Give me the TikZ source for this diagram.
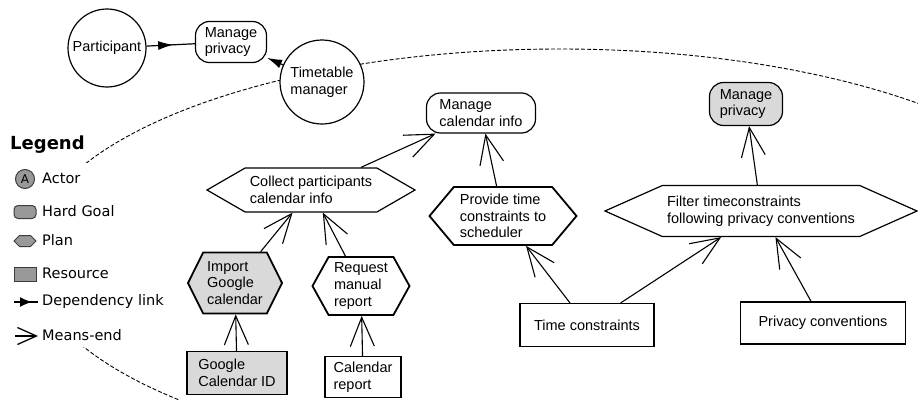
\documentclass[tikz,border=0pt]{standalone}
\usepackage{fontspec}
\setmainfont{Liberation Sans}
\newfontfamily\legendfont{DejaVu Sans}
\usetikzlibrary{arrows.meta,shapes.symbols,decorations.markings}
\definecolor{goalgrey}{HTML}{D9D9D9}
\definecolor{iconfill}{HTML}{999999}
\definecolor{icondraw}{HTML}{3C3C3C}
\tikzset{
	every node/.style={font=\fontsize{14.5}{16.7}\selectfont, align=left, inner sep=2pt},
	actor/.style={draw, circle, line width=1.2pt, fill=white, minimum size=#1},
	goal/.style={draw, rectangle, rounded corners=14pt, line width=1.2pt, fill=white},
	plan/.style={draw, signal, signal to=west and east, signal pointer angle=#1, line width=1.2pt, fill=white},
	resource/.style={draw, rectangle, line width=1.1pt, fill=white},
	meansend/.style={line width=1.1pt, -{Straight Barb[length=29pt,width=24pt]}},
	dependency/.style={line width=1.2pt, postaction={decorate},
		decoration={markings, mark=at position #1 with {\arrow{Latex[length=15pt,width=9pt]}}}},
	legend label/.style={anchor=west, inner sep=0pt, font=\legendfont\fontsize{14.5}{16}\selectfont}
}
\begin{document}
\begin{tikzpicture}[x=1pt, y=-1pt]
	\useasboundingbox (0,0) rectangle (918,399);
	% boundary of the timetable manager
	\draw[dash pattern=on 4pt off 2pt, line width=0.9pt] (560,256) ellipse [x radius=530pt, y radius=207pt];
	% legend panel hides the boundary
	\fill[white] (0,163) rectangle (178,347);
	%
	% actors and their dependency
	\node[actor=78pt] (participant) at (107,48) {Participant};
	\node[goal, minimum width=71pt, minimum height=41pt] (privacy) at (231,42) {Manage\\privacy};
	\node[actor=84pt] (timetable) at (322,82) {Timetable\\manager};
	\draw[dependency=0.55] (participant) -- (privacy);
	\draw[line width=1.2pt, -{Latex[length=15pt,width=9pt]}] (timetable) -- (privacy);
	%
	% goals inside the timetable manager
	\node[goal, minimum width=109pt, minimum height=40pt] (mci) at (481,113) {Manage\\calendar info};
	\node[goal, fill=goalgrey, minimum width=73pt, minimum height=43pt] (mpi) at (746,104) {Manage\\privacy};
	% plans
	\node[plan=60, minimum width=208pt, minimum height=44pt] (cpci) at (311,190) {Collect participants\\calendar info};
	\node[plan=127, fill=goalgrey, line width=1.8pt, minimum width=94pt, minimum height=61pt] (igc) at (235,283) {Import\\Google\\calendar};
	\node[plan=122, line width=1.8pt, minimum width=97pt, minimum height=58pt] (rmr) at (361,286) {Request\\manual\\report};
	\node[plan=100, line width=1.8pt, minimum width=147pt, minimum height=58pt] (ptc) at (503,216) {Provide time\\constraints to\\scheduler};
	\node[plan=48, minimum width=312pt, minimum height=51pt] (ftc) at (761,211) {Filter timeconstraints\\following privacy conventions};
	% resources
	\node[resource, fill=goalgrey, minimum width=100pt, minimum height=43pt] (gid) at (237,373) {Google\\Calendar ID};
	\node[resource, minimum width=76pt, minimum height=41pt] (crep) at (363,377) {Calendar\\report};
	\node[resource, minimum width=134pt, minimum height=43pt] (tc) at (587,325) {Time constraints};
	\node[resource, minimum width=165pt, minimum height=42pt] (pc) at (823,323) {Privacy conventions};
	% means-end links
	\def\meansends{gid/igc, crep/rmr, igc/cpci, rmr/cpci, cpci/mci, ptc/mci, tc/ptc, tc/ftc, pc/ftc, ftc/mpi}
	\foreach \s/\t in \meansends{
		\draw[meansend] (\s) -- (\t);
	}
	%
	% legend
	\node[anchor=west, inner sep=0pt, font=\legendfont\bfseries\fontsize{18}{20}\selectfont] (legend) at (10,145) {Legend};
	\node[circle, draw=icondraw, fill=iconfill, line width=1pt, minimum size=19pt, inner sep=0pt, font=\legendfont\fontsize{12}{12}\selectfont] (iconactor) at (25,179) {A};
	\node[draw=icondraw, fill=iconfill, line width=1pt, rounded corners=4pt, minimum width=22pt, minimum height=13pt, inner sep=0pt] (icongoal) at (25,212) {};
	\node[signal, signal to=west and east, draw=icondraw, fill=iconfill, line width=1pt, minimum width=22pt, minimum height=11pt, inner sep=0pt] (iconplan) at (25,241) {};
	\node[draw=icondraw, fill=iconfill, line width=1pt, minimum width=22pt, minimum height=14pt, inner sep=0pt] (iconres) at (25,274) {};
	\coordinate (depfrom) at (14,302);
	\coordinate (depto) at (38,302);
	\draw[line width=1.3pt, postaction={decorate}, decoration={markings, mark=at position 0.75 with {\arrow{Latex[length=12pt,width=10pt]}}}] (depfrom) -- (depto);
	\coordinate (mefrom) at (15,336);
	\coordinate (meto) at (38,336);
	\draw[line width=1.3pt, -{Straight Barb[length=19pt,width=17pt]}] (mefrom) -- (meto);
	\node[legend label] (lbactor) at (42,178) {Actor};
	\node[legend label] (lbgoal) at (42,211) {Hard Goal};
	\node[legend label] (lbplan) at (42,240) {Plan};
	\node[legend label] (lbres) at (42,273) {Resource};
	\node[legend label] (lbdep) at (42,301) {Dependency link};
	\node[legend label] (lbme) at (42,335) {Means-end};
\end{tikzpicture}
\end{document}
